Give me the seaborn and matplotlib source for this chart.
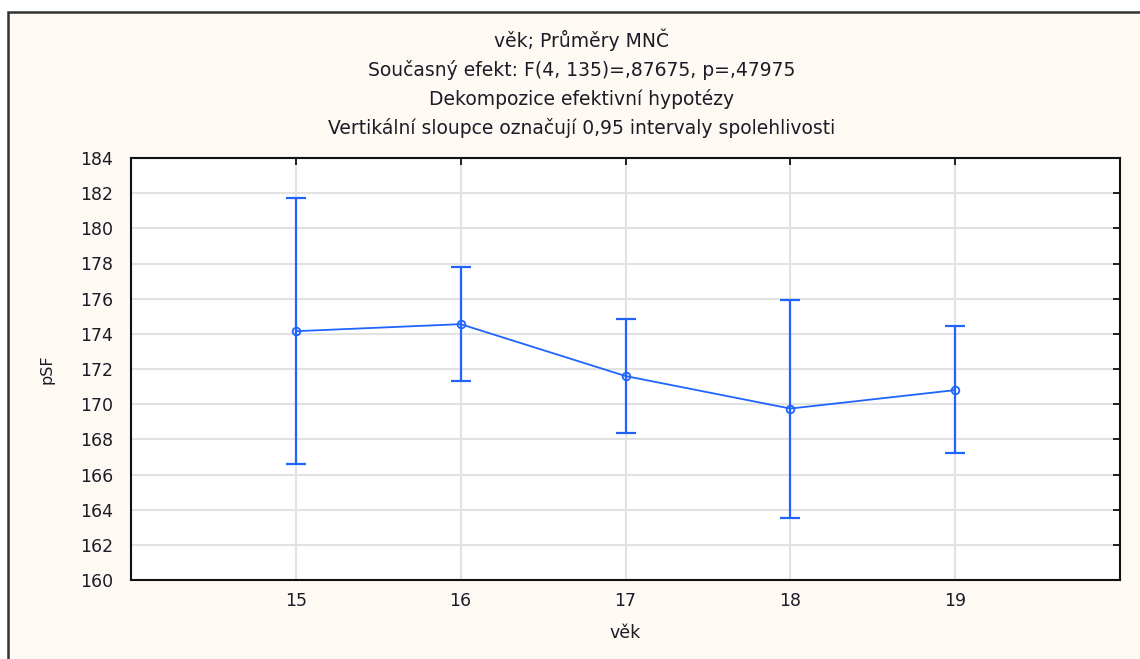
import matplotlib
matplotlib.use("Agg")
import matplotlib.pyplot as plt
import matplotlib.patches as mpatches
import seaborn as sns
import numpy as np
import pandas as pd

# ---- data ----
ages = [15, 16, 17, 18, 19]
means = [174.15, 174.55, 171.6, 169.75, 170.8]
ci_upper = [181.75, 177.8, 174.85, 175.95, 174.45]
ci_lower = [166.6, 171.3, 168.35, 163.5, 167.25]
y_ticks = list(range(160, 185, 2))
x_ticks = [15, 16, 17, 18, 19]
title_lines = [
    "věk; Průměry MNČ",
    "Současný efekt: F(4, 135)=,87675, p=,47975",
    "Dekompozice efektivní hypotézy",
    "Vertikální sloupce označují 0,95 intervaly spolehlivosti",
]

df = pd.DataFrame({"věk": ages, "pSF": means})

sns.set_style("white")
plt.rcParams["font.family"] = ["DejaVu Sans"]

BLUE = "#2064ff"
TXT = "#1c1c28"
CREAM = "#fef9f2"

fig = plt.figure(figsize=(11.4, 6.59), dpi=100, facecolor="white")

# outer frame
W, H = 1140, 659
frame = mpatches.Rectangle((8 / W, -0.05), 1.2, 1 - 12 / H + 0.05,
                           transform=fig.transFigure, facecolor=CREAM,
                           edgecolor="#333333", linewidth=1.8, zorder=-5)
fig.patches.append(frame)

ax = fig.add_axes([131 / W, 1 - 580 / H, (1120 - 131) / W, (580 - 158) / H])
ax.set_zorder(5)
ax.set_facecolor("white")

sns.lineplot(data=df, x="věk", y="pSF", ax=ax, color=BLUE, linewidth=1.3,
             marker="o", markersize=5.5, markerfacecolor="none",
             markeredgecolor=BLUE, markeredgewidth=1.3, zorder=4)
yerr = [np.array(means) - np.array(ci_lower), np.array(ci_upper) - np.array(means)]
ax.errorbar(ages, means, yerr=yerr, fmt="none", ecolor=BLUE, elinewidth=1.6,
            capsize=7.5, capthick=1.6, zorder=3)

ax.set_xlim(14, 20)
ax.set_ylim(160, 184)
ax.set_xticks(x_ticks)
ax.set_yticks(y_ticks)
ax.grid(True, color="#e2e2e2", linewidth=1.5, zorder=0)
ax.set_axisbelow(True)
for s in ax.spines.values():
    s.set_color("#111111")
    s.set_linewidth(1.5)
ax.tick_params(direction="in", top=True, right=True, length=5, width=1.3,
               colors="#111111", labelcolor=TXT, labelsize=12.5)
ax.tick_params(axis="x", pad=9)
ax.tick_params(axis="y", pad=13)

ax.set_xlabel("věk", fontsize=12.5, color=TXT, labelpad=10)
ax.set_ylabel("pSF", fontsize=11.5, color=TXT, labelpad=18)

ys = [40, 70, 99, 128]
for t, yy in zip(title_lines, ys):
    fig.text(582 / W, 1 - yy / H, t, ha="center", va="center",
             fontsize=13.5, color=TXT)

fig.savefig("out.png", dpi=100, facecolor=fig.get_facecolor())
